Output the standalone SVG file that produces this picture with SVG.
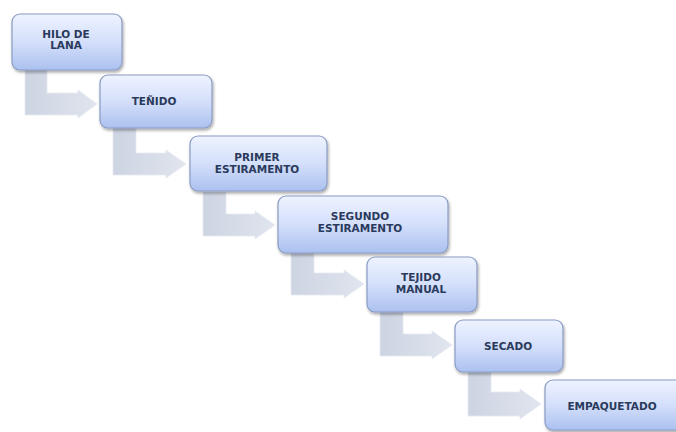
<svg xmlns="http://www.w3.org/2000/svg" width="676" height="432" viewBox="0 0 676 432">
<defs>
<linearGradient id="gBox" x1="0" y1="0" x2="0" y2="1">
<stop offset="0" stop-color="#eef3ff"/>
<stop offset="0.5" stop-color="#d4dffa"/>
<stop offset="1" stop-color="#abc1f0"/>
</linearGradient>
<linearGradient id="gArr" x1="0" y1="0" x2="1" y2="0">
<stop offset="0" stop-color="#cdd4e2"/>
<stop offset="1" stop-color="#e0e5ee"/>
</linearGradient>
<filter id="sh" x="-10%" y="-10%" width="125%" height="130%">
<feGaussianBlur in="SourceAlpha" stdDeviation="1.5"/>
<feOffset dx="1" dy="2"/>
<feComponentTransfer><feFuncA type="linear" slope="0.35"/></feComponentTransfer>
<feMerge><feMergeNode/><feMergeNode in="SourceGraphic"/></feMerge>
</filter>
</defs>
<style>
.box{fill:url(#gBox);stroke:#8a9cc4;stroke-width:1.2;filter:url(#sh)}
.arr{fill:url(#gArr);stroke:#e6eaf1;stroke-width:0.8}
.t{font-family:"DejaVu Sans",Verdana,sans-serif;font-weight:bold;font-size:10.5px;fill:#2a3a5c;text-anchor:middle}
</style>
<rect width="676" height="432" fill="#ffffff"/>
<g id="connectors">
<path class="arr" d="M25,70 L47,70 L47,93 L78,93 L78,90 L97,104 L78,118 L78,115 L25,115 Z"/>
<path class="arr" d="M113,128 L136,128 L136,153 L166,153 L166,150 L186,164 L166,178 L166,175 L113,175 Z"/>
<path class="arr" d="M203,192 L226,192 L226,214 L255,214 L255,211 L275,225 L255,239 L255,236 L203,236 Z"/>
<path class="arr" d="M291,253 L314,253 L314,273 L344,273 L344,270 L364,284 L344,298 L344,295 L291,295 Z"/>
<path class="arr" d="M380,312 L403,312 L403,334 L432,334 L432,331 L452,345 L432,359 L432,356 L380,356 Z"/>
<path class="arr" d="M468,372 L491,372 L491,392 L520,392 L520,389 L541,404 L520,419 L520,416 L468,416 Z"/>
</g>
<g id="n1"><rect class="box" x="12" y="14" width="110" height="56" rx="8"/><text class="t" x="66" y="38">HILO DE</text><text class="t" x="66" y="49">LANA</text></g>
<g id="n2"><rect class="box" x="100" y="75" width="112" height="53" rx="8"/><text class="t" x="154" y="105">TEÑIDO</text></g>
<g id="n3"><rect class="box" x="190" y="136" width="137" height="55" rx="8"/><text class="t" x="257" y="161">PRIMER</text><text class="t" x="257" y="173">ESTIRAMENTO</text></g>
<g id="n4"><rect class="box" x="278" y="196" width="170" height="57" rx="8"/><text class="t" x="360" y="220">SEGUNDO</text><text class="t" x="360" y="232">ESTIRAMENTO</text></g>
<g id="n5"><rect class="box" x="367" y="257" width="110" height="55" rx="8"/><text class="t" x="421" y="281">TEJIDO</text><text class="t" x="421" y="293">MANUAL</text></g>
<g id="n6"><rect class="box" x="455" y="320" width="108" height="52" rx="8"/><text class="t" x="508" y="350">SECADO</text></g>
<g id="n7"><rect class="box" x="545" y="380" width="140" height="50" rx="8"/><text class="t" x="612" y="410">EMPAQUETADO</text></g>
</svg>
